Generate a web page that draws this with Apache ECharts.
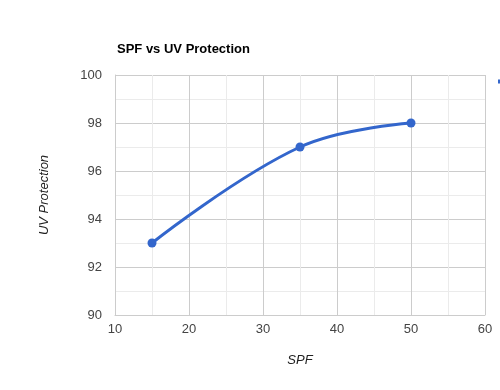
<!DOCTYPE html>
<html><head><meta charset="utf-8">
<script src="https://cdn.jsdelivr.net/npm/echarts@6/dist/echarts.min.js"></script>
<style>html,body{margin:0;padding:0;background:#fff}#c{width:500px;height:390px}</style>
</head><body><div id="c"></div>
<script>
const spf = [15, 35, 50];
const uvProtection = [93, 97, 98];
const seriesName = 'UV Protection';
const xTicks = [10, 20, 30, 40, 50, 60];
const yTicks = [90, 92, 94, 96, 98, 100];

const FONT = '"Liberation Sans", Arial, sans-serif';
const chart = echarts.init(document.getElementById('c'), null, {renderer: 'canvas'});
chart.setOption({
  animation: false,
  title: {text: 'SPF vs UV Protection', left: 112, top: 38,
    textStyle: {fontFamily: FONT, fontSize: 13, fontWeight: 'bold', color: '#000'}},
  legend: {left: 498, top: 75, padding: 0, itemWidth: 12, itemHeight: 4, icon: 'rect',
    textStyle: {fontSize: 13, color: '#222', fontFamily: FONT}, data: [seriesName]},
  grid: {left: 115, right: 15, top: 75, bottom: 75},
  xAxis: {type: 'value', min: xTicks[0], max: xTicks[xTicks.length-1], interval: 10,
    name: 'SPF', nameLocation: 'middle', nameGap: 39,
    nameTextStyle: {fontStyle: 'italic', fontSize: 13, color: '#222', fontFamily: FONT},
    axisLine: {show: true, lineStyle: {color: '#ccc'}}, axisTick: {show: false},
    axisLabel: {color: '#444', fontSize: 13, margin: 8, fontFamily: FONT},
    splitLine: {show: true, lineStyle: {color: '#ccc'}},
    minorTick: {show: false, splitNumber: 2},
    minorSplitLine: {show: true, lineStyle: {color: '#ebebeb'}}},
  yAxis: {type: 'value', min: yTicks[0], max: yTicks[yTicks.length-1], interval: 2,
    name: 'UV Protection', nameLocation: 'middle', nameGap: 64,
    nameTextStyle: {fontStyle: 'italic', fontSize: 13, color: '#222', fontFamily: FONT},
    axisLine: {show: true, lineStyle: {color: '#ccc'}}, axisTick: {show: false},
    axisLabel: {color: '#444', fontSize: 13, margin: 13, fontFamily: FONT},
    splitLine: {show: true, lineStyle: {color: '#ccc'}},
    minorTick: {show: false, splitNumber: 2},
    minorSplitLine: {show: true, lineStyle: {color: '#ebebeb'}}},
  series: [{name: seriesName, type: 'line', smooth: 0.4,
    data: spf.map((x, i) => [x, uvProtection[i]]),
    symbol: 'circle', symbolSize: 9,
    lineStyle: {color: '#3366cc', width: 3}, itemStyle: {color: '#3366cc'}}]
});
</script></body></html>
